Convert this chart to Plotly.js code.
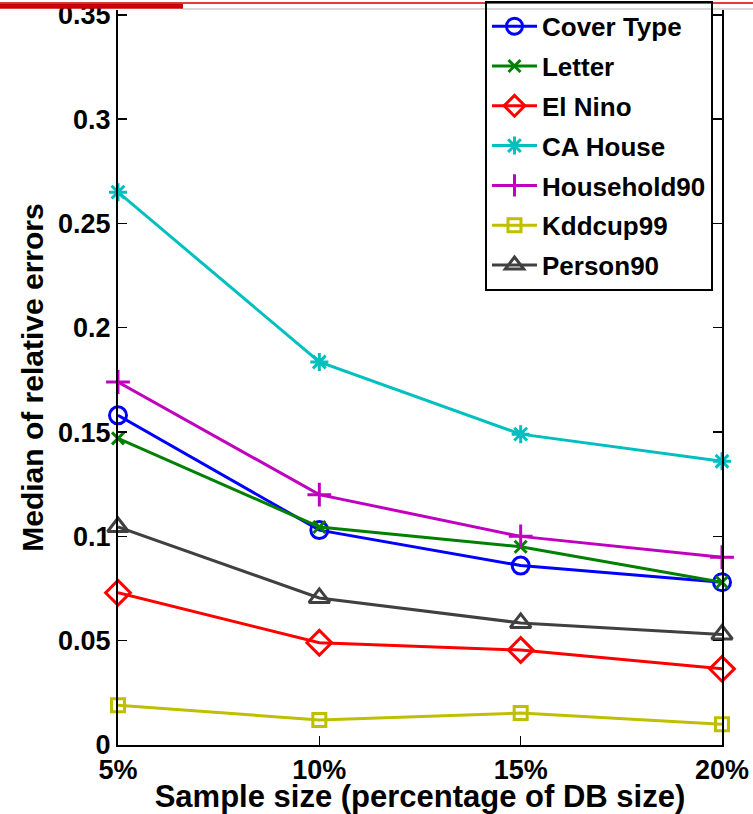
<!DOCTYPE html>
<html>
<head>
<meta charset="utf-8">
<script src="https://cdn.plot.ly/plotly-3.0.1.min.js"></script>
<style>html,body{margin:0;padding:0;background:#fff;}#chart{width:753px;height:814px;}</style>
</head>
<body>
<div id="chart"></div>
<script>
// Data
const xVals = [5, 10, 15, 20];
const xTickText = ["5%", "10%", "15%", "20%"];
const yTickVals = [0, 0.05, 0.1, 0.15, 0.2, 0.25, 0.3, 0.35];
const yTickText = ["0", "0.05", "0.1", "0.15", "0.2", "0.25", "0.3", "0.35"];

const coverType   = [0.158, 0.103, 0.086, 0.078];
const letter      = [0.147, 0.1045, 0.095, 0.078];
const elNino      = [0.073, 0.049, 0.0455, 0.0365];
const caHouse     = [0.265, 0.1836, 0.149, 0.136];
const household90 = [0.174, 0.120, 0.100, 0.090];
const kddcup99    = [0.019, 0.012, 0.0153, 0.010];
const person90    = [0.1045, 0.0705, 0.0585, 0.053];

const seriesNames = ["Cover Type", "Letter", "El Nino", "CA House", "Household90", "Kddcup99", "Person90"];
const seriesData = [coverType, letter, elNino, caHouse, household90, kddcup99, person90];

// Styles
const styles = [
  {color: "#0000ff", symbol: "circle-open", size: 17},
  {color: "#008000", symbol: "x-thin-open", size: 12},
  {color: "#ff0000", symbol: "diamond-open", size: 19},
  {color: "#00bfbf", symbol: "asterisk-open", size: 15},
  {color: "#bf00bf", symbol: "cross-thin-open", size: 17},
  {color: "#bfbf00", symbol: "square-open", size: 13},
  {color: "#404040", symbol: "triangle-up-open", size: 18}
];

const traces = seriesNames.map((name, i) => ({
  type: "scatter",
  mode: "lines+markers",
  name: name,
  legendgroup: "g" + i,
  x: xVals,
  y: seriesData[i],
  cliponaxis: false,
  line: {color: styles[i].color, width: 3},
  marker: {symbol: styles[i].symbol, size: styles[i].size, color: styles[i].color,
           line: {color: styles[i].color, width: 3}}
}));

const font = "'Liberation Sans', Arial, Helvetica, sans-serif";

const layout = {
  width: 753, height: 814,
  margin: {l: 118, r: 31, t: 10, b: 69, autoexpand: false},
  paper_bgcolor: "#fff", plot_bgcolor: "#fff",
  font: {family: font, color: "#000", size: 27, weight: "bold"},
  showlegend: true,
  legend: {
    x: 0.6076, xanchor: "left", y: 1.0125, yanchor: "top",
    bordercolor: "#000", borderwidth: 2, bgcolor: "rgba(255,255,255,0)",
    font: {family: font, size: 26, color: "#000", weight: "bold"},
    traceorder: "grouped", tracegroupgap: 3, itemwidth: 45
  },
  xaxis: {
    range: [5, 20], tickvals: xVals, ticktext: xTickText,
    showgrid: false, zeroline: false, showline: true, linecolor: "#000", linewidth: 2,
    ticks: "inside", ticklen: 9, tickwidth: 1.5, tickcolor: "#000", mirror: false,
    tickfont: {family: font, size: 27, weight: "bold"},
    title: {text: "Sample size (percentage of DB size)", font: {family: font, size: 31, weight: "bold"}, standoff: 3}
  },
  yaxis: {
    range: [0, 0.3523], tickvals: yTickVals, ticktext: yTickText,
    showgrid: false, zeroline: false, showline: true, linecolor: "#000", linewidth: 2,
    ticks: "inside", ticklen: 9, tickwidth: 1.5, tickcolor: "#000", mirror: "ticks",
    tickfont: {family: font, size: 27, weight: "bold"},
    title: {text: "Median of relative errors", font: {family: font, size: 30, weight: "bold"}, standoff: 6}
  },
  shapes: [
    {type: "line", xref: "paper", yref: "paper", x0: -0.2, x1: 1.06, y0: 1.0095, y1: 1.0095,
     line: {color: "#cc0000", width: 1.5}, layer: "above"},
    {type: "rect", xref: "paper", yref: "paper", x0: -0.2, x1: 0.1076, y0: 1.0018, y1: 1.0085,
     fillcolor: "#cc0000", line: {width: 0}, layer: "above"},
    {type: "line", xref: "paper", yref: "paper", x0: 0.1076, x1: 1.06, y0: 1.0012, y1: 1.0012,
     line: {color: "#d8d8d8", width: 2}, layer: "above"}
  ]
};

Plotly.newPlot("chart", traces, layout, {displayModeBar: false, staticPlot: true});
</script>
</body>
</html>
